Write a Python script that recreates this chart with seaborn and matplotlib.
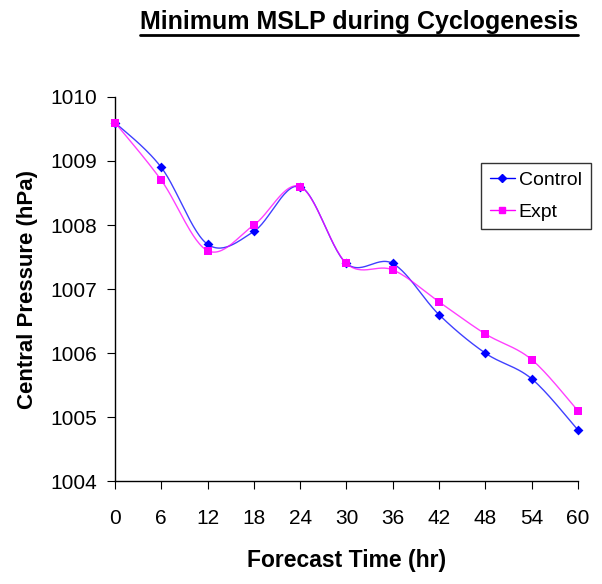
import numpy as np
import matplotlib
matplotlib.use("Agg")
import matplotlib.pyplot as plt
import seaborn as sns
import pandas as pd

# data
hours = [0, 6, 12, 18, 24, 30, 36, 42, 48, 54, 60]
control = [1009.6, 1008.9, 1007.7, 1007.9, 1008.6, 1007.4, 1007.4, 1006.6, 1006.0, 1005.6, 1004.8]
expt = [1009.6, 1008.7, 1007.6, 1008.0, 1008.6, 1007.4, 1007.3, 1006.8, 1006.3, 1005.9, 1005.1]


def smooth(x, y, n=30):
    # excel-like smoothed line (catmull-rom as cubic bezier)
    x = np.asarray(x, float)
    y = np.asarray(y, float)
    px = np.concatenate([[x[0]], x, [x[-1]]])
    py = np.concatenate([[y[0]], y, [y[-1]]])
    xs, ys = [], []
    t = np.linspace(0, 1, n)
    for i in range(1, len(px) - 2):
        p0 = np.array([px[i], py[i]])
        p3 = np.array([px[i + 1], py[i + 1]])
        p1 = p0 + (np.array([px[i + 1], py[i + 1]]) - np.array([px[i - 1], py[i - 1]])) / 6
        p2 = p3 - (np.array([px[i + 2], py[i + 2]]) - np.array([px[i], py[i]])) / 6
        b = ((1 - t) ** 3)[:, None] * p0 + (3 * (1 - t) ** 2 * t)[:, None] * p1 \
            + (3 * (1 - t) * t ** 2)[:, None] * p2 + (t ** 3)[:, None] * p3
        xs.extend(b[:, 0])
        ys.extend(b[:, 1])
    return np.array(xs), np.array(ys)


sns.set_style("white", {"text.color": "black", "axes.labelcolor": "black",
                        "xtick.color": "black", "ytick.color": "black"})
plt.rcParams['font.family'] = ['Liberation Sans', 'DejaVu Sans']

fig = plt.figure(figsize=(6.02, 5.84), dpi=100)
ax = fig.add_axes([0.191, 0.176, 0.769, 0.658])

series = [("Control", control, "#0000FF", "D", 5), ("Expt", expt, "#FF00FF", "s", 6)]
for name, vals, col, mk, ms in series:
    sx, sy = smooth(hours, vals)
    ax.plot(sx, sy, color=col, lw=1, alpha=0.75)
    df = pd.DataFrame({"h": hours, "v": vals})
    sns.scatterplot(data=df, x="h", y="v", ax=ax, color=col, marker=mk, s=ms ** 2,
                    edgecolor=col, linewidth=0, zorder=3, legend=False)
    ax.plot([], [], color=col, lw=1, marker=mk, ms=ms - 1, label=name)

ax.set_xlim(0, 60)
ax.set_ylim(1004, 1010)
ax.set_xticks(hours)
ax.set_yticks(range(1004, 1011))
ax.tick_params(labelsize=15, length=6, direction="out", left=True, bottom=True,
               colors="black")
ax.xaxis.set_tick_params(pad=14)
ax.yaxis.set_tick_params(pad=7)
ax.set_xlabel("Forecast Time (hr)", fontsize=16.5, fontweight="bold", labelpad=15,
              color="black")
ax.set_ylabel("Central Pressure (hPa)", fontsize=16, fontweight="bold", labelpad=9,
              color="black")
for sp in ["top", "right"]:
    ax.spines[sp].set_visible(False)
for sp in ["left", "bottom"]:
    ax.spines[sp].set_color("black")
    ax.spines[sp].set_linewidth(1)
for c in ax.collections:
    c.set_clip_on(False)

leg = ax.legend(loc="upper right", bbox_to_anchor=(0.981, 0.721), fontsize=14,
                bbox_transform=fig.transFigure,
                frameon=True, fancybox=False, edgecolor="black", handlelength=1.3,
                handletextpad=0.2, borderpad=0.45, labelspacing=0.7,
                borderaxespad=0)
leg.get_frame().set_linewidth(1)

title = fig.text(0.597, 0.962, "Minimum MSLP during Cyclogenesis", ha="center",
                 va="center", fontsize=18, fontweight="bold", color="black")
fig.canvas.draw()
bb = title.get_window_extent().transformed(fig.transFigure.inverted())
fig.add_artist(plt.Line2D([bb.x0, bb.x1], [bb.y0 - 0.002, bb.y0 - 0.002],
                          color="black", lw=2))

fig.savefig("out.png", dpi=100)
